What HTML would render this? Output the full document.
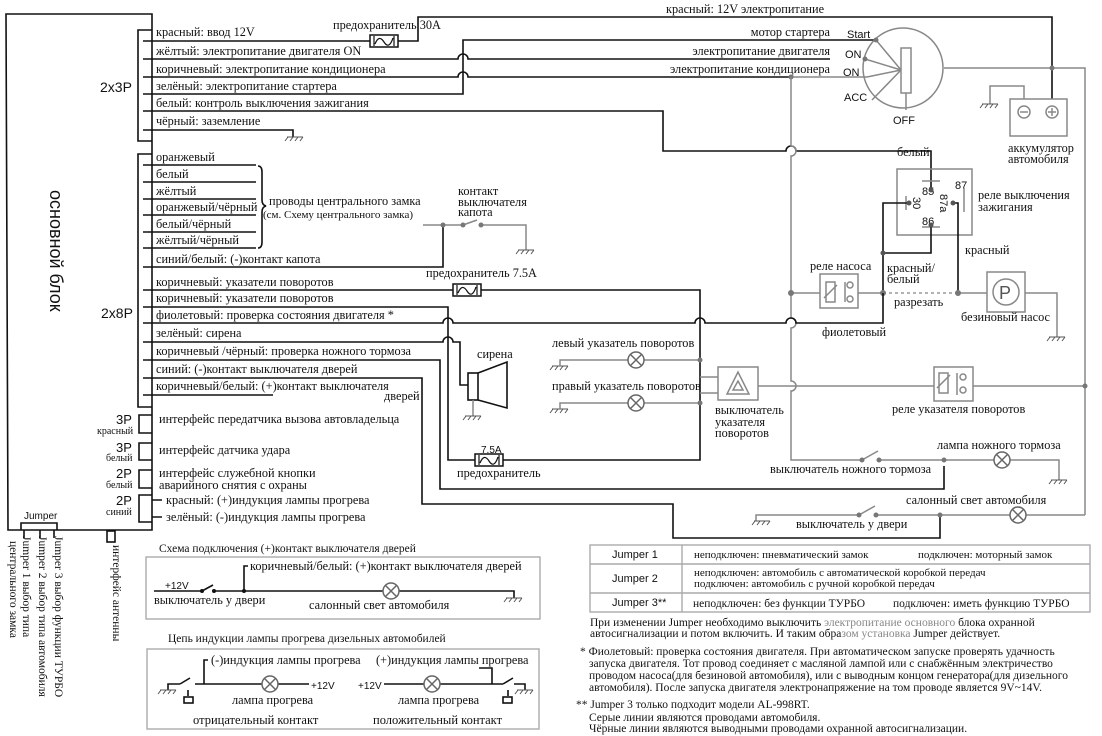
<!DOCTYPE html>
<html><head><meta charset="utf-8">
<style>
html,body{margin:0;padding:0;background:#fff;}
svg{display:block;}
text{font-family:"Liberation Serif","DejaVu Serif",serif;font-size:12.3px;fill:#111;}
.s{font-family:"Liberation Sans","DejaVu Sans",sans-serif;}
.k{stroke:#111;stroke-width:1.6;fill:none;}
.g{stroke:#888;stroke-width:1.5;fill:none;}
.gt{fill:#888;}
</style></head>
<body>
<svg width="1102" height="736" viewBox="0 0 1102 736" xmlns="http://www.w3.org/2000/svg">
<defs>
<g id="gnd"><path d="M-8 0H8M-7 0l-3 4M-2 0l-3 4M3 0l-3 4M8 0l-3 4" stroke="#555" stroke-width="1" fill="none"/></g>
<g id="lamp"><circle r="8" fill="#fff" stroke="#666" stroke-width="1.5"/><path d="M-5.6 -5.6L5.6 5.6M5.6 -5.6L-5.6 5.6" stroke="#666" stroke-width="1.5"/></g>
<g id="fuse"><rect x="-14" y="-6" width="28" height="12" fill="#fff" stroke="#111" stroke-width="1.5"/><path d="M-10 -5V5M10 -5V5M-9 3q4 -10 9 -2t9 -4" stroke="#111" stroke-width="1.2" fill="none"/></g>
</defs>

<!-- main block -->
<path class="k" d="M6 14H152V530H8Z"/>
<text class="s" transform="translate(50,190) rotate(90)" style="font-size:18px">основной блок</text>

<!-- 2x3P -->
<path class="k" d="M152 30H138V141H152"/>
<text class="s" x="100" y="92" style="font-size:14px">2x3P</text>
<text x="156" y="36">красный: ввод 12V</text>
<text x="156" y="55">жёлтый: электропитание двигателя ON</text>
<text x="156" y="73">коричневый: электропитание кондиционера</text>
<text x="156" y="90">зелёный: электропитание стартера</text>
<text x="156" y="107">белый: контроль выключения зажигания</text>
<text x="156" y="125">чёрный: заземление</text>
<path class="k" d="M143 41H370M398 41H418V17H1052V99"/>
<use href="#fuse" x="384" y="41"/>
<text x="333" y="29">предохранитель 30A</text>
<path class="k" d="M143 59H458a5 5 0 0 1 10 0H830"/>
<path class="k" d="M143 77H458a5 5 0 0 1 10 0H791"/>
<path class="g" d="M791 77H867"/>
<path class="k" d="M143 94H463V40H876"/>
<path class="k" d="M143 111H663V151H786a5 5 0 0 1 10 0H931V190"/>
<path class="k" d="M143 130H293V137"/>
<use href="#gnd" x="295" y="137"/>

<!-- right top labels -->
<text x="666" y="13">красный: 12V электропитание</text>
<text x="830" y="36" text-anchor="end">мотор стартера</text>
<text x="830" y="55" text-anchor="end">электропитание двигателя</text>
<text x="830" y="73" text-anchor="end">электропитание кондиционера</text>

<!-- ignition -->
<circle cx="903" cy="68" r="40" class="g"/>
<rect x="901" y="48" width="10" height="45" class="g"/>
<path class="g" d="M906 93V110M876 40L901 70M865 59L901 70M867 77L901 70M872 100L901 70"/>
<circle cx="876" cy="40" r="2.5" fill="#777"/><circle cx="865" cy="59" r="2.5" fill="#777"/><circle cx="791" cy="77" r="2.5" fill="#777"/>
<text class="s" x="847" y="38" style="font-size:11px">Start</text>
<text class="s" x="845" y="58" style="font-size:11px">ON</text>
<text class="s" x="843" y="76" style="font-size:11px">ON</text>
<text class="s" x="844" y="101" style="font-size:11px">ACC</text>
<text class="s" x="893" y="124" style="font-size:11px">OFF</text>
<path class="g" d="M944 68H1085V515"/>
<circle cx="1052" cy="68" r="2.5" fill="#777"/>

<!-- battery -->
<rect x="1010" y="99" width="57" height="37" class="g"/>
<circle cx="1024" cy="112" r="6" class="g"/><path class="g" d="M1020 112h8"/>
<circle cx="1052" cy="112" r="6" class="g"/><path class="g" d="M1048 112h8M1052 108v8"/>
<path class="g" d="M1024 99V86H990V104"/>
<use href="#gnd" x="990" y="104"/>
<text x="1008" y="152">аккумулятор</text>
<text x="1008" y="163">автомобиля</text>

<!-- vertical grey 791 -->
<path class="g" d="M791 77V146a5 5 0 0 1 0 10V318a5 5 0 0 1 0 10V381a5 5 0 0 1 0 10V460H862"/>

<!-- ignition relay -->
<rect x="897" y="169" width="75" height="66" class="g"/>
<text x="897" y="156">белый</text>
<text class="s" x="922" y="195" style="font-size:11px">85</text>
<text class="s" x="955" y="189" style="font-size:11px">87</text>
<text class="s" x="922" y="225" style="font-size:11px">86</text>
<text class="s" transform="translate(913,197) rotate(90)" style="font-size:11px">30</text>
<text class="s" transform="translate(940,194) rotate(90)" style="font-size:11px">87a</text>
<path class="g" d="M906 196v14M922 181h18M922 227h18M964 188v24"/>
<path class="k" d="M909 203H883V293M883 253H931V225M953 203H958V293"/>
<circle cx="931" cy="190" r="2.5" fill="#555"/><circle cx="931" cy="225" r="2.5" fill="#555"/><circle cx="909" cy="203" r="2.5" fill="#555"/><circle cx="953" cy="203" r="2.5" fill="#555"/><circle cx="883" cy="253" r="2.5" fill="#555"/>
<text x="978" y="199">реле выключения</text>
<text x="978" y="211">зажигания</text>
<text x="965" y="254">красный</text>

<!-- pump relay & pump -->
<path class="g" d="M791 293H820M858 293H883"/>
<path d="M883 293H958" stroke="#999" stroke-width="1.4" stroke-dasharray="3,3"/>
<path class="g" d="M958 293H987M1025 293H1057V337"/>
<use href="#gnd" x="1057" y="337"/>
<rect x="820" y="274" width="38" height="34" class="g"/>
<rect x="826" y="282" width="9" height="20" class="g"/><path class="g" d="M824 298l13 -13M845 282v20"/>
<circle cx="850" cy="285" r="3" class="g"/><circle cx="850" cy="299" r="3" class="g"/>
<circle cx="791" cy="293" r="3" fill="#777"/><circle cx="883" cy="293" r="3" fill="#777"/><circle cx="958" cy="293" r="3" fill="#777"/>
<rect x="987" y="272" width="38" height="40" class="g"/>
<circle cx="1006" cy="292" r="13" class="g"/>
<text class="s" x="999" y="299" style="font-size:18px;fill:#555">P</text>
<text x="810" y="270">реле насоса</text>
<text x="887" y="272">красный/</text>
<text x="887" y="283">белый</text>
<text x="894" y="306">разрезать</text>
<text x="961" y="321">безиновый насос</text>
<text x="822" y="336">фиолетовый</text>

<!-- 2x8P -->
<path class="k" d="M152 154H138V407H152"/>
<text class="s" x="101" y="318" style="font-size:14px">2x8P</text>
<text x="156" y="161">оранжевый</text>
<text x="156" y="178">белый</text>
<text x="156" y="195">жёлтый</text>
<text x="156" y="211">оранжевый/чёрный</text>
<text x="156" y="228">белый/чёрный</text>
<text x="156" y="244">жёлтый/чёрный</text>
<path class="k" d="M143 165H256M143 182H256M143 199H256M143 215H256M143 232H256M143 248H256"/>
<path class="k" d="M258 166q4 0 4 6V200q0 5 4 6q-4 1 -4 6V242q0 6 -4 6" stroke-width="1.1"/>
<text x="269" y="205">проводы центрального замка</text>
<text x="263" y="218" style="font-size:11px">(см. Схему центрального замка)</text>
<text x="156" y="263">синий/белый: (-)контакт капота</text>
<path class="k" d="M143 267H443V225"/>
<path class="g" d="M423 225H463M481 225H526V250M463 225l14 -5"/>
<circle cx="443" cy="225" r="2.5" fill="#777"/><circle cx="463" cy="225" r="2.5" fill="#777"/><circle cx="481" cy="225" r="2.5" fill="#777"/>
<use href="#gnd" x="526" y="250"/>
<text x="458" y="195">контакт</text>
<text x="458" y="206">выключателя</text>
<text x="458" y="216">капота</text>

<text x="156" y="286">коричневый: указатели поворотов</text>
<text x="156" y="302">коричневый: указатели поворотов</text>
<text x="156" y="319">фиолетовый: проверка состояния двигателя *</text>
<text x="156" y="337">зелёный: сирена</text>
<text x="156" y="355">коричневый /чёрный: проверка ножного тормоза</text>
<text x="156" y="373">синий: (-)контакт выключателя дверей</text>
<text x="156" y="390">коричневый/белый: (+)контакт выключателя</text>
<text x="384" y="400">дверей</text>
<path class="k" d="M143 290H453M481 290H700V460H503M475 460H448V307H143"/>
<use href="#fuse" x="467" y="290"/>
<text x="426" y="277">предохранитель 7.5A</text>
<use href="#fuse" x="489" y="460"/>
<text class="s" x="481" y="453" style="font-size:10px">7.5A</text>
<text x="457" y="477">предохранитель</text>
<path class="k" d="M143 323H443a5 5 0 0 1 10 0H695a5 5 0 0 1 10 0H786a5 5 0 0 1 10 0H883V293"/>
<path class="k" d="M143 342H443a5 5 0 0 1 10 0H460V385H468"/>
<path class="k" d="M143 360H440V489H944V466"/>
<path class="k" d="M143 378H422V504H673V538H940V515"/>
<path class="k" d="M143 395H273"/>
<!-- siren -->
<rect x="468" y="373" width="10" height="27" class="k"/>
<path class="k" d="M478 373L507 362V408L478 400"/>
<path class="g" d="M473 400V416"/><use href="#gnd" x="473" y="416"/>
<text x="477" y="358">сирена</text>

<!-- turn lamps -->
<text x="552" y="347">левый указатель поворотов</text>
<text x="552" y="390">правый указатель поворотов</text>
<path class="g" d="M567 360H700M567 403H700M700 377H718M700 393H718"/>
<use href="#gnd" x="560" y="366"/><use href="#gnd" x="560" y="409"/>
<path class="g" d="M560 366V360H567M560 409V403H567"/>
<use href="#lamp" x="636" y="360"/><use href="#lamp" x="636" y="403"/>
<circle cx="700" cy="360" r="2.5" fill="#777"/><circle cx="700" cy="403" r="2.5" fill="#777"/>
<rect x="718" y="367" width="40" height="33" class="g"/>
<path class="g" d="M738 372L727 394H749Z M738 381L733 390H743Z"/>
<text x="715" y="414">выключатель</text>
<text x="715" y="426">указателя</text>
<text x="715" y="437">поворотов</text>
<path class="g" d="M758 386H934M973 386H1085"/>
<circle cx="1085" cy="386" r="2.5" fill="#777"/>
<rect x="934" y="367" width="39" height="34" class="g"/>
<rect x="939" y="373" width="9" height="20" class="g"/><path class="g" d="M937 388l13 -13M957 373v22"/>
<circle cx="963" cy="377" r="3" class="g"/><circle cx="963" cy="390" r="3" class="g"/>
<text x="892" y="413">реле указателя поворотов</text>

<!-- brake -->
<path class="g" d="M862 460l16 -9M879 460H1059V480"/>
<circle cx="862" cy="460" r="2.5" fill="#777"/><circle cx="879" cy="460" r="2.5" fill="#777"/><circle cx="944" cy="460" r="2.5" fill="#777"/>
<use href="#lamp" x="1002" y="460"/>
<use href="#gnd" x="1059" y="480"/>
<text x="937" y="449">лампа ножного тормоза</text>
<text x="770" y="473">выключатель ножного тормоза</text>

<!-- door -->
<path class="g" d="M756 521V515H859M859 515l16 -9M876 515H1085"/>
<use href="#gnd" x="762" y="521"/>
<circle cx="859" cy="515" r="2.5" fill="#777"/><circle cx="876" cy="515" r="2.5" fill="#777"/><circle cx="940" cy="515" r="2.5" fill="#777"/>
<use href="#lamp" x="1018" y="515"/>
<text x="906" y="504">салонный свет автомобиля</text>
<text x="796" y="528">выключатель у двери</text>

<!-- small connectors -->
<path class="k" d="M152 415H139V433H152M152 443H139V460H152M152 470H139V488H152M152 495H139V522H152"/>
<text class="s" x="116" y="424" style="font-size:13px">3P</text>
<text x="97" y="434" style="font-size:10px">красный</text>
<text class="s" x="116" y="452" style="font-size:13px">3P</text>
<text x="106" y="461" style="font-size:10px">белый</text>
<text class="s" x="116" y="478" style="font-size:13px">2P</text>
<text x="106" y="488" style="font-size:10px">белый</text>
<text class="s" x="116" y="505" style="font-size:13px">2P</text>
<text x="106" y="515" style="font-size:10px">синий</text>
<text x="159" y="423">интерфейс передатчика вызова автовладельца</text>
<text x="159" y="454">интерфейс датчика удара</text>
<text x="159" y="477">интерфейс служебной кнопки</text>
<text x="159" y="489">аварийного снятия с охраны</text>
<path class="k" d="M152 500H162M152 517H162"/>
<text x="166" y="504">красный: (+)индукция лампы прогрева</text>
<text x="166" y="521">зелёный: (-)индукция лампы прогрева</text>

<!-- jumper -->
<path class="k" d="M21 530V523H57V530M24 530V538M40 530V538M54 530V538"/>
<text class="s" x="24" y="519" style="font-size:10px">Jumper</text>
<text transform="translate(55,536) rotate(90)" style="font-size:11.5px">Jumper 3 выбор функции ТУРБО</text>
<text transform="translate(39,536) rotate(90)" style="font-size:11.5px">Jumper 2 выбор типа автомобиля</text>
<text transform="translate(23,536) rotate(90)" style="font-size:11.5px">Jumper 1 выбор типа</text>
<text transform="translate(10,541) rotate(90)" style="font-size:11.5px">центрального замка</text>
<rect x="107" y="531" width="8" height="11" class="k"/>
<text transform="translate(113,545) rotate(90)" style="font-size:11.5px">интерфейс антенны</text>

<!-- door scheme -->
<text x="159" y="552" style="font-size:11.5px">Схема подключения (+)контакт выключателя дверей</text>
<rect x="146" y="557" width="394" height="62" fill="none" stroke="#aaa" stroke-width="1.4"/>
<text class="s" x="165" y="589" style="font-size:10px">+12V</text>
<path class="k" d="M154 591H202M202 591l11 -6M214 591H514V598M244 591V566H248" stroke-width="1.1"/>
<circle cx="202" cy="591" r="2" fill="#111"/><circle cx="214" cy="591" r="2" fill="#111"/><circle cx="244" cy="591" r="2" fill="#111"/>
<use href="#lamp" x="391" y="591"/>
<use href="#gnd" x="514" y="598"/>
<text x="250" y="570">коричневый/белый: (+)контакт выключателя дверей</text>
<text x="154" y="604">выключатель у двери</text>
<text x="309" y="609">салонный свет автомобиля</text>

<!-- glow scheme -->
<text x="168" y="642" style="font-size:11.5px">Цепь индукции лампы прогрева дизельных автомобилей</text>
<rect x="147" y="649" width="392" height="80" fill="none" stroke="#aaa" stroke-width="1.4"/>
<path class="k" d="M168 690V684H180M180 684l10 -6M195 684H309M204 684V660H208M188 690v6" stroke-width="1.1"/>
<use href="#gnd" x="168" y="690"/>
<rect x="184" y="697" width="9" height="6" class="k" stroke-width="1"/>
<use href="#lamp" x="270" y="684"/>
<text class="s" x="311" y="689" style="font-size:10px">+12V</text>
<text x="211" y="664">(-)индукция лампы прогрева</text>
<text x="232" y="704">лампа прогрева</text>
<text x="193" y="724" style="font-size:12.5px">отрицательный контакт</text>
<text class="s" x="358" y="689" style="font-size:10px">+12V</text>
<path class="k" d="M384 684H503M503 684l10 -6M514 684H525V690M492 684V668H479M508 690v6" stroke-width="1.1"/>
<use href="#gnd" x="525" y="690"/>
<rect x="503" y="697" width="9" height="6" class="k" stroke-width="1"/>
<use href="#lamp" x="432" y="684"/>
<text x="376" y="664">(+)индукция лампы прогрева</text>
<text x="398" y="704">лампа прогрева</text>
<text x="373" y="724" style="font-size:12.5px">положительный контакт</text>

<!-- table -->
<rect x="590" y="545" width="500" height="67" fill="none" stroke="#aaa" stroke-width="1.4"/>
<path d="M590 564H1090M590 593H1090M682 545V612" stroke="#aaa" stroke-width="1.4"/>
<text class="s" x="612" y="558" style="font-size:11px">Jumper 1</text>
<text class="s" x="612" y="582" style="font-size:11px">Jumper 2</text>
<text class="s" x="612" y="606" style="font-size:11px">Jumper 3**</text>
<text x="694" y="558" style="font-size:11px">неподключен: пневматический замок</text>
<text x="918" y="558" style="font-size:11px">подключен: моторный замок</text>
<text x="694" y="576" style="font-size:11px">неподключен: автомобиль с автоматической коробкой передач</text>
<text x="694" y="587" style="font-size:11px">подключен: автомобиль с ручной коробкой передач</text>
<text x="693" y="607" style="font-size:11.5px">неподключен: без функции ТУРБО</text>
<text x="893" y="607" style="font-size:11.5px">подключен: иметь функцию ТУРБО</text>

<!-- notes -->
<text x="590" y="626" style="font-size:11.5px">При изменении Jumper необходимо выключить <tspan class="gt">электропитание основного</tspan> блока охранной</text>
<text x="590" y="637" style="font-size:11.5px">автосигнализации и потом включить. И таким обра<tspan class="gt">зом установка</tspan> Jumper действует.</text>
<text x="580" y="655" style="font-size:11.5px">* Фиолетовый: проверка состояния двигателя. При автоматическом запуске проверять удачность</text>
<text x="589" y="667" style="font-size:11.5px">запуска двигателя. Тот провод соединяет с масляной лампой или с снабжённым электричество</text>
<text x="589" y="679" style="font-size:11.5px">проводом насоса(для безиновой автомобиля), или с выводным концом генератора(для дизельного</text>
<text x="589" y="691" style="font-size:11.5px">автомобиля). После запуска двигателя электронапряжение на том проводе является 9V~14V.</text>
<text x="576" y="708" style="font-size:11.5px">** Jumper 3 только подходит модели AL-998RT.</text>
<text x="589" y="721" style="font-size:11.5px">Серые линии являются проводами автомобиля.</text>
<text x="589" y="732" style="font-size:11.5px">Чёрные линии являются выводными проводами охранной автосигнализации.</text>
</svg>
</body></html>
